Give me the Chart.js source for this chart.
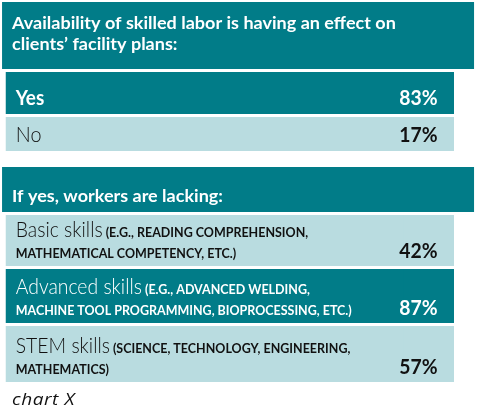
<!DOCTYPE html>
<html><head><meta charset="utf-8">
<script src="https://cdn.jsdelivr.net/npm/chart.js@4.4.1/dist/chart.umd.min.js"></script>
<style>html,body{margin:0;padding:0;background:#fff;overflow:hidden}#wrap{width:477px;height:418px;position:relative}</style>
</head><body><div id="wrap"><canvas id="c"></canvas></div>
<script>
// ---- data ----
const title1Lines = ["Availability of skilled labor is having an effect on", "clients’ facility plans:"];
const answers = ["Yes", "No"];
const answerValues = [83, 17];
const title2 = "If yes, workers are lacking:";
const skills = ["Basic skills", "Advanced skills", "STEM skills"];
const skillNotes1 = ["(E.G., READING COMPREHENSION,", "(E.G., ADVANCED WELDING,", "(SCIENCE, TECHNOLOGY, ENGINEERING,"];
const skillNotes2 = ["MATHEMATICAL COMPETENCY, ETC.)", "MACHINE TOOL PROGRAMMING, BIOPROCESSING, ETC.)", "MATHEMATICS)"];
const skillValues = [42, 87, 57];
const caption = "chart X";

// ---- layout (pixel-unit scale, 1 unit = 1 px) ----
const W = 477, H = 418;
const headerRows = [[2, 69], [167, 212]];
const answerRows = [[72, 114], [117, 151]];
const skillRows = [[215, 266], [269, 323], [326, 382]];
const colFull = [2, 474], colLeft = [2, 400], colRight = [403, 474];
const DARK = '#017C88', LIGHT = '#B9DCE0';
const answerShade = ['dark', 'light'];
const skillShade = ['light', 'dark', 'light'];

const mid = c => (c[0] + c[1]) / 2;
const span = c => c[1] - c[0];
const rowsAll = answerRows.concat(skillRows);
const shadesAll = answerShade.concat(skillShade);
const col = s => s === 'dark' ? DARK : LIGHT;

function txt(ctx, s, x, y, font, color, sx, align, ls) {
  ctx.save();
  ctx.font = font; ctx.fillStyle = color; ctx.textBaseline = 'alphabetic';
  ctx.textAlign = 'left';
  if (ls) ctx.letterSpacing = ls + 'px';
  const w = ctx.measureText(s).width * sx;
  let x0 = x;
  if (align === 'center') x0 = x - w / 2;
  else if (align === 'right') x0 = x - w;
  ctx.translate(x0, y); ctx.scale(sx, 1);
  ctx.fillText(s, 0, 0);
  ctx.restore();
  return w;
}

const textPlugin = {
  id: 'tableText',
  afterDatasetsDraw(chart) {
    const ctx = chart.ctx;
    const box = (di, i) => {
      const el = chart.getDatasetMeta(di).data[i];
      const p = el.getProps(['x', 'y', 'base', 'width'], true);
      return { l: p.x - p.width / 2, r: p.x + p.width / 2, t: Math.min(p.y, p.base), b: Math.max(p.y, p.base), cx: p.x };
    };
    const PAD = 10;
    const HF = 'bold 17.5px Lato';
    // headers
    let h = box(0, 0);
    txt(ctx, title1Lines[0], h.l + PAD, h.t + 27, HF, '#fff', 1.03, 'left');
    txt(ctx, title1Lines[1], h.l + PAD, h.t + 48, HF, '#fff', 1.03, 'left');
    h = box(0, 1);
    txt(ctx, title2, h.l + PAD, h.b - 10, HF, '#fff', 1.03, 'left');
    // answers
    answers.forEach((a, i) => {
      const L = box(1, i), R = box(2, i);
      const c = shadesAll[i] === 'dark' ? '#fff' : '#111';
      const f = i === 0 ? 'bold 21px Lato' : '300 22px Lato';
      txt(ctx, a, L.l + PAD, L.b - 9, f, c, 0.9, 'left');
      txt(ctx, answerValues[i] + '%', R.cx, R.b - 9, 'bold 21.5px Lato', c, 0.9, 'center');
    });
    // skills
    skills.forEach((s, k) => {
      const i = answers.length + k;
      const L = box(1, i), R = box(2, i);
      const c = shadesAll[i] === 'dark' ? '#fff' : '#111';
      const y2 = L.b - 8, y1 = y2 - 21;
      const w = txt(ctx, s, L.l + PAD, y1, '300 22px Lato', c, 0.88, 'left');
      txt(ctx, ' ' + skillNotes1[k], L.l + PAD + w, y1, 'bold 13px Lato', c, 0.96, 'left');
      txt(ctx, skillNotes2[k], L.l + PAD, y2, 'bold 13px Lato', c, 0.96, 'left');
      txt(ctx, skillValues[k] + '%', R.cx, y2, 'bold 21.5px Lato', c, 0.9, 'center');
    });
    // caption
    txt(ctx, caption, 12, 405, 'italic 400 17px "Open Sans"', '#111', 1.12, 'left', 0.5);
  }
};

const mk = (rows, c) => rows.map(r => ({ x: mid(c), y: [r[0], r[1]] }));

new Chart(document.getElementById('c'), {
  type: 'bar',
  data: {
    datasets: [
      { label: 'headers', data: mk(headerRows, colFull), backgroundColor: DARK, barThickness: span(colFull) },
      { label: 'labels', data: mk(rowsAll, colLeft), backgroundColor: shadesAll.map(col), barThickness: span(colLeft) },
      { label: 'values', data: mk(rowsAll, colRight), backgroundColor: shadesAll.map(col), barThickness: span(colRight) }
    ]
  },
  options: {
    responsive: true, maintainAspectRatio: false, animation: false,
    devicePixelRatio: 1,
    layout: { padding: 0 },
    datasets: { bar: { grouped: false, borderWidth: 0, borderSkipped: false, inflateAmount: 0 } },
    plugins: { legend: { display: false }, tooltip: { enabled: false }, title: { display: false } },
    scales: {
      x: { type: 'linear', min: 0, max: W, display: false },
      y: { type: 'linear', min: 0, max: H, reverse: true, display: false }
    }
  },
  plugins: [textPlugin]
});
</script></body></html>
